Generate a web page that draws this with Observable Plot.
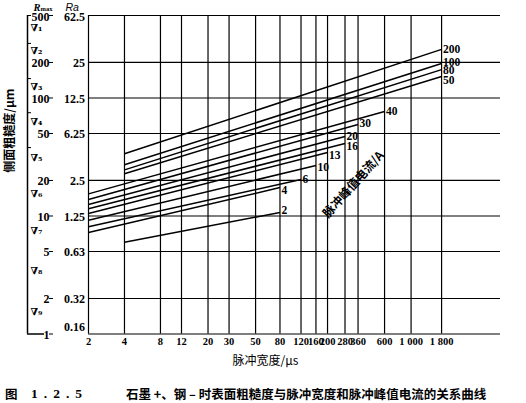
<!DOCTYPE html>
<html>
<head>
<meta charset="utf-8">
<script src="https://cdn.jsdelivr.net/npm/d3@7"></script>
<script src="https://cdn.jsdelivr.net/npm/@observablehq/plot@0.6"></script>
<style>
  body { margin: 0; background: #fff; }
  #chart svg { display: block; }
  .cap { position: absolute; top: 385px; font-weight: bold; font-size: 12.5px; white-space: pre; color: #000; line-height: 18px; }
  .cjk { font-family: "Noto Sans CJK SC"; }
  .num { font-family: "Liberation Serif", "DejaVu Serif", serif; letter-spacing: 6px; font-size: 13.5px; }
</style>
</head>
<body>
<div id="chart"></div>
<div class="cap cjk" style="left:5px">图</div>
<div class="cap num" style="left:31px">1.2.5</div>
<div class="cap cjk" style="left:126px">石墨 +、钢 – 时表面粗糙度与脉冲宽度和脉冲峰值电流的关系曲线</div>
<script>
// ---- data ----
const xTicks = [2, 4, 8, 12, 20, 30, 50, 80, 120, 160, 200, 280, 360, 600, 1000, 1800];
const xTickLabels = ["2", "4", "8", "12", "20", "30", "50", "80", "120", "160", "200", "280", "360", "600", "1 000", "1 800"];
const rmaxTicks = [500, 200, 100, 50, 20, 10, 5, 2, 1];
const rmaxLabels = ["500", "200", "100", "50", "20", "10", "5", "2", "1"];
const raLabels = ["62.5", "25", "12.5", "6.25", "2.5", "1.25", "0.63", "0.32", "0.16"];
const gradeLabels = ["∇₁", "∇₂", "∇₃", "∇₄", "∇₅", "∇₆", "∇₇", "∇₈", "∇₉"];
const gradePos = [390, 250, 125, 63, 31, 15.5, 7.5, 3.45, 1.53];
const gradeBounds = [500, 290, 146, 75, 38];

const currents = [200, 100, 80, 50, 40, 30, 20, 16, 13, 10, 6, 4, 2];
const startWidth = [4, 4, 4, 4, 2, 2, 2, 2, 2, 2, 2, 2, 4];
const endWidth = [1800, 1800, 1800, 1800, 600, 360, 280, 280, 200, 160, 120, 80, 80];
const startRmax = [33.7, 27.2, 24.6, 22.8, 15.4, 13.8, 12.5, 11.5, 10.5, 9.2, 8.1, 7.25, 6.0];
const endRmax = [258, 196, 174, 152, 76.8, 59.6, 47.2, 41.2, 34.5, 26.8, 20.4, 17.4, 10.7];
const labelDy = [0, -1.5, 1, 3.5, 0, -1, -0.5, 2.5, 3, 2, 0, 3, -2];

const rotLabel = [{x: 330, y: 18.5, text: "脉冲峰值电流/A"}];

// ---- derived tables ----
const lines = currents.map((c, i) => ({
  current: c, x1: startWidth[i], y1: startRmax[i], x2: endWidth[i], y2: endRmax[i], dy: labelDy[i]
}));
const xRows = xTicks.map((d, i) => ({x: d, text: xTickLabels[i]}));
const raRows = rmaxTicks.map((d, i) => ({y: d, text: raLabels[i]}));
const rmaxRows = rmaxTicks.map((d, i) => ({y: d, text: rmaxLabels[i]}));
const grades = gradeLabels.map((t, i) => ({y: gradePos[i], text: t}));

const serif = "'Liberation Serif', 'DejaVu Serif', serif";
const cjk = "Noto Sans CJK SC";

const chart = Plot.plot({
  width: 526,
  height: 383,
  marginLeft: 88,
  marginRight: 26,
  marginTop: 15,
  marginBottom: 49.5,
  x: {type: "log", domain: [2, 5600], axis: null},
  y: {type: "log", domain: [1, 500], axis: null},
  style: {fontFamily: serif, color: "#000", background: "#fff"},
  marks: [
    // grid / frame
    Plot.ruleY(rmaxTicks, {stroke: "#000", strokeWidth: 1.2}),
    Plot.ruleX(xTicks, {stroke: "#000", strokeWidth: 1.2}),
    // curves
    Plot.link(lines, {x1: "x1", y1: "y1", x2: "x2", y2: "y2", stroke: "#000", strokeWidth: 1.5}),
    ...lines.map(l => Plot.text([l], {x: "x2", y: "y2", text: d => String(d.current), textAnchor: "start", dx: 1.5, dy: l.dy, fontSize: 11.5, fontWeight: "bold", fontFamily: serif})),
    // x tick labels
    Plot.text(xRows, {x: "x", text: "text", frameAnchor: "bottom", dy: 11, fontSize: 10.5, fontWeight: "bold", fontFamily: serif, letterSpacing: "-0.4px"}),
    Plot.text(["脉冲宽度/μs"], {frameAnchor: "bottom", dx: -29, dy: 31, fontSize: 12, fontFamily: cjk}),
    // Ra labels
    Plot.text(raRows.slice(0, 1), {y: "y", text: "text", frameAnchor: "left", dx: -3.5, dy: 2, textAnchor: "end", fontSize: 12, fontWeight: "bold", fontFamily: serif}),
    Plot.text(raRows.slice(1, -1), {y: "y", text: "text", frameAnchor: "left", dx: -3.5, dy: 1, textAnchor: "end", fontSize: 12, fontWeight: "bold", fontFamily: serif}),
    Plot.text(raRows.slice(-1), {y: "y", text: "text", frameAnchor: "left", dx: -3.5, dy: -7, textAnchor: "end", fontSize: 12, fontWeight: "bold", fontFamily: serif}),
    // Rmax axis
    Plot.axisY({ticks: rmaxTicks, tickFormat: () => "", tickSize: 4, tickPadding: 1, dx: -35, label: null}),
    Plot.text(rmaxRows.slice(0, 1), {y: "y", text: "text", frameAnchor: "left", dx: -39, dy: 2, textAnchor: "end", fontSize: 12, fontWeight: "bold", fontFamily: serif}),
    Plot.text(rmaxRows.slice(1), {y: "y", text: "text", frameAnchor: "left", dx: -39, dy: 1, textAnchor: "end", fontSize: 12, fontWeight: "bold", fontFamily: serif}),
    Plot.ruleX([2], {y1: 1, y2: 500, dx: -61, stroke: "#000", strokeWidth: 1.5}),
    Plot.axisY({ticks: gradeBounds, tickFormat: () => "", tickSize: -4, dx: -61, label: null}),
    Plot.axisY({ticks: [1], tickFormat: () => "", tickSize: -17, dx: -61, label: null, strokeWidth: 1.5}),
    // grade symbols
    Plot.text(grades, {y: "y", text: "text", frameAnchor: "left", dx: -58, textAnchor: "start", fontSize: 10, fontWeight: "bold", fontFamily: "DejaVu Serif"}),
    // headers
    Plot.text(["R"], {frameAnchor: "top-left", dx: -55, dy: -11.5, textAnchor: "start", fontSize: 10.5, fontStyle: "italic", fontWeight: "bold", fontFamily: serif}),
    Plot.text(["max"], {frameAnchor: "top-left", dx: -48, dy: -9.5, textAnchor: "start", fontSize: 6.5, fontWeight: "bold", fontFamily: serif}),
    Plot.text(["Ra"], {frameAnchor: "top-left", dx: -23, dy: -11.5, textAnchor: "start", fontSize: 10.5, fontStyle: "italic", fontFamily: "Liberation Sans"}),
    // y title
    Plot.text(["侧面粗糙度/μm"], {frameAnchor: "left", dx: -78, dy: -2, rotate: -90, fontSize: 12, fontWeight: "bold", fontFamily: cjk}),
    // current label
    Plot.text(rotLabel, {x: "x", y: "y", text: "text", rotate: -48, fontSize: 12, fontWeight: "bold", fontFamily: cjk})
  ]
});
document.getElementById("chart").append(chart);
</script>
</body>
</html>
